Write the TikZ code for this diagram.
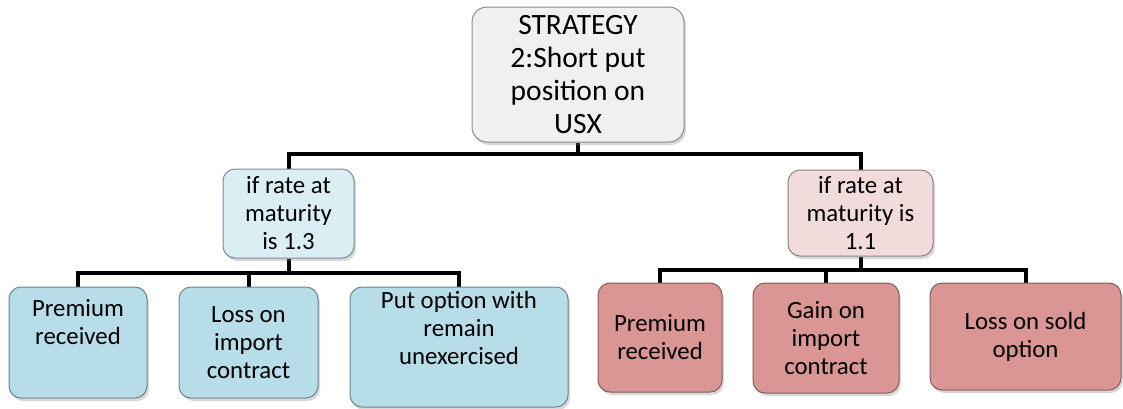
\documentclass[tikz,border=0pt]{standalone}
\usepackage{fontspec}
\setmainfont{Carlito}
\usetikzlibrary{shadows,backgrounds}
\definecolor{topfill}{RGB}{240,240,240}
\definecolor{topdraw}{RGB}{140,140,140}
\definecolor{lmfill}{RGB}{219,238,243}
\definecolor{lmdraw}{RGB}{125,140,145}
\definecolor{rmfill}{RGB}{242,220,219}
\definecolor{rmdraw}{RGB}{145,128,128}
\definecolor{lbfill}{RGB}{183,221,232}
\definecolor{lbdraw}{RGB}{110,132,140}
\definecolor{rbfill}{RGB}{217,150,148}
\definecolor{rbdraw}{RGB}{130,92,92}
\begin{document}
\begin{tikzpicture}[x=1pt,y=-1pt,
  box/.style={draw, rounded corners=12pt, line width=1pt, align=center, inner sep=0pt,
    text=black, drop shadow={shadow xshift=2pt, shadow yshift=-3pt, opacity=0.3}},
  conn/.style={line width=4pt, draw=black},
  big/.style={font=\fontsize{29.5}{33}\selectfont},
  small/.style={font=\fontsize{24.8}{28}\selectfont},
  lm/.style={box, small, fill=lmfill, draw=lmdraw},
  rm/.style={box, small, fill=rmfill, draw=rmdraw},
  lb/.style={box, small, fill=lbfill, draw=lbdraw},
  rb/.style={box, small, fill=rbfill, draw=rbdraw},
  uptext/.style={align=center, font=\fontsize{24.8}{28}\selectfont, text=black}]
\useasboundingbox (0,0) rectangle (1123,408);

\node[box, big, fill=topfill, draw=topdraw, rounded corners=15pt, minimum width=212pt, minimum height=135pt] (top) at (578,74.5) {STRATEGY\\2:Short put\\position on\\USX};

\node[lm, minimum width=131pt, minimum height=89pt] (ml) at (288.5,213.5) {if rate at\\maturity\\is 1.3};
\node[rm, minimum width=145pt, minimum height=86pt] (mr) at (860.5,213) {if rate at\\maturity is\\1.1};

\node[lb, minimum width=138pt, minimum height=111pt,
  label={[uptext, yshift=20pt]center:{Premium\\received}}] (b1) at (78,342.5) {};
\node[lb, minimum width=139pt, minimum height=111pt] (b2) at (248.5,342.5) {Loss on\\import\\contract};
\node[lb, minimum width=218pt, minimum height=120pt,
  label={[uptext, yshift=19pt]center:{Put option with\\remain\\unexercised}}] (b3) at (459,347) {};

\node[rb, minimum width=124pt, minimum height=109pt] (b4) at (660,337.5) {Premium\\received};
\node[rb, minimum width=146pt, minimum height=110pt] (b5) at (826,338) {Gain on\\import\\contract};
\node[rb, minimum width=191pt, minimum height=107pt] (b6) at (1025.5,336.5) {Loss on sold\\option};

\coordinate (tbus) at (578,154);
\coordinate (lbus) at (288.5,273);
\coordinate (rbus) at (860.5,270);

\begin{scope}[on background layer]
\draw[conn] (top.south) -- (tbus);
\draw[conn] (ml.north) |- (tbus) -| (mr.north);
\draw[conn] (ml.south) -- (lbus);
\draw[conn] (b1.north) |- (lbus) -| (b3.north);
\draw[conn] (b2.north) -- (b2.north |- lbus);
\draw[conn] (mr.south) -- (rbus);
\draw[conn] (b4.north) |- (rbus) -| (b6.north);
\draw[conn] (b5.north) -- (b5.north |- rbus);
\end{scope}
\end{tikzpicture}
\end{document}
